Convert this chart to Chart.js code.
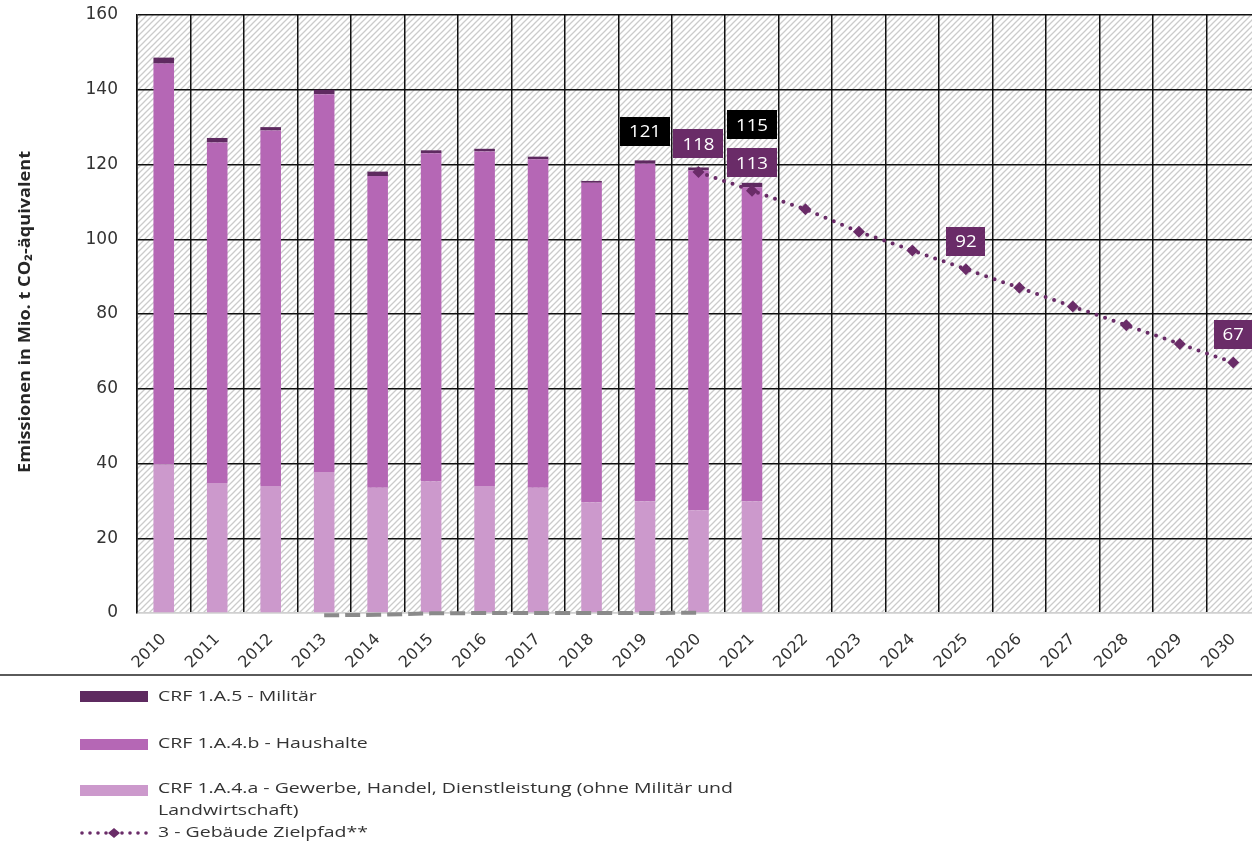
<!DOCTYPE html>
<html><head><meta charset="utf-8">
<script src="https://cdn.jsdelivr.net/npm/chart.js@4.4.1/dist/chart.umd.min.js"></script>
<style>
html,body{margin:0;padding:0;background:#fff;overflow:hidden;}
#wrap{position:absolute;left:0;top:0;width:1266px;height:843px;}
</style></head><body>
<div id="wrap"><canvas id="c"></canvas></div>
<script>
// ---- data ----
const years = ['2010','2011','2012','2013','2014','2015','2016','2017','2018','2019','2020','2021','2022','2023','2024','2025','2026','2027','2028','2029','2030'];
const gewerbe   = [39.8, 34.8, 34.0, 37.7, 33.5, 35.2, 34.0, 33.5, 29.6, 29.9, 27.5, 29.9];
const haushalte = [107.2, 91.1, 95.1, 101.1, 83.4, 87.8, 89.5, 87.9, 85.5, 90.3, 90.9, 84.0];
const militaer  = [1.6, 1.2, 0.9, 1.2, 1.2, 0.8, 0.7, 0.7, 0.5, 0.9, 0.8, 1.2];
const zielpfad  = [null,null,null,null,null,null,null,null,null,null,118,113,108,102,97,92,87,82,77,72,67];
const greyLine  = [null,null,null,-0.6,-0.5,-0.1,0,0,0,0,0.1,null,null,null,null,null,null,null,null,null,null];
const yTicks = [0,20,40,60,80,100,120,140,160];
const nameMilitaer  = 'CRF 1.A.5 - Militär';
const nameHaushalte = 'CRF 1.A.4.b - Haushalte';
const nameGewerbe   = ['CRF 1.A.4.a - Gewerbe, Handel, Dienstleistung (ohne Militär und', 'Landwirtschaft)'];
const nameZiel      = '3 - Gebäude Zielpfad**';
const yTitle = 'Emissionen in Mio. t CO₂-äquivalent';
// value callouts: which year, which series ("total" = bar sum, "ziel" = target path)
const callouts = [
  {year:'2019', kind:'total'},
  {year:'2020', kind:'ziel'},
  {year:'2021', kind:'total'},
  {year:'2021', kind:'ziel'},
  {year:'2025', kind:'ziel'},
  {year:'2030', kind:'ziel'}
];

// ---- styles ----
const cMil = '#5e2a60', cHaus = '#b567b5', cGew = '#cc99cc', cZiel = '#6a2c68', cGrey = '#8a8a8a';

const pat = document.createElement('canvas'); pat.width = 6; pat.height = 6;
const pc = pat.getContext('2d');
pc.fillStyle = '#ffffff'; pc.fillRect(0,0,6,6);
pc.strokeStyle = '#cbcbcb'; pc.lineWidth = 1.3;
pc.beginPath();
pc.moveTo(0,6); pc.lineTo(6,0);
pc.moveTo(-1,1); pc.lineTo(1,-1);
pc.moveTo(5,7); pc.lineTo(7,5);
pc.stroke();

const hatchPlugin = {
  id: 'hatch',
  beforeDraw(chart){
    const {ctx, chartArea:a} = chart;
    ctx.save();
    ctx.fillStyle = ctx.createPattern(pat, 'repeat');
    ctx.fillRect(a.left, a.top, a.right - a.left, a.bottom - a.top);
    ctx.restore();
  }
};

const calloutPlugin = {
  id: 'callouts',
  afterDatasetsDraw(chart){
    const {ctx} = chart;
    const xs = chart.scales.x, ys = chart.scales.y;
    ctx.save();
    ctx.font = '17px "Open Sans"';
    ctx.textAlign = 'center'; ctx.textBaseline = 'middle';
    callouts.forEach(c => {
      const i = years.indexOf(c.year);
      let v, bg, dy;
      if (c.kind === 'total') {
        v = gewerbe[i] + haushalte[i] + militaer[i]; bg = '#000000';
        dy = (c.year === '2021') ? 58 : 29;
      } else {
        v = zielpfad[i]; bg = cZiel; dy = 28;
      }
      const txt = String(Math.round(v));
      const x = xs.getPixelForValue(i), y = ys.getPixelForValue(v) - dy;
      const w = ctx.measureText(txt).width * 1.1 + 18, h = 29;
      ctx.fillStyle = bg;
      ctx.fillRect(Math.round(x - w/2), Math.round(y - h/2), Math.round(w), h);
      ctx.fillStyle = '#ffffff';
      ctx.save(); ctx.translate(x, y + 1); ctx.scale(1.1, 1);
      ctx.fillText(txt, 0, 0);
      ctx.restore();
    });
    ctx.restore();
  }
};

const titlePlugin = {
  id: 'yTitle',
  afterDraw(chart){
    const ctx = chart.ctx, a = chart.chartArea;
    ctx.save();
    ctx.font = '700 16px "Open Sans"';
    ctx.fillStyle = '#262626';
    ctx.textAlign = 'center'; ctx.textBaseline = 'middle';
    const w = ctx.measureText(yTitle).width;
    const sx = 322 / w;
    ctx.translate(25, (a.top + a.bottom) / 2 - 2);
    ctx.rotate(-Math.PI / 2);
    ctx.scale(sx, 1);
    ctx.fillText(yTitle, 0, 0);
    ctx.restore();
  }
};

const legendPlugin = {
  id: 'customLegend',
  afterDraw(chart){
    const ctx = chart.ctx;
    ctx.save();
    ctx.strokeStyle = '#5a5a5a'; ctx.lineWidth = 2;
    ctx.beginPath(); ctx.moveTo(0, 675); ctx.lineTo(1266, 675); ctx.stroke();
    ctx.font = '15px "Open Sans"';
    ctx.textBaseline = 'middle'; ctx.textAlign = 'left';
    const sx = 575 / ctx.measureText(nameGewerbe[0]).width;
    const bx = 80, bw = 68, tx = 158;
    const txt = (s, y) => { ctx.save(); ctx.fillStyle = '#333'; ctx.translate(tx, y); ctx.scale(sx, 1); ctx.fillText(s, 0, 0); ctx.restore(); };
    // Militär
    ctx.fillStyle = cMil; ctx.fillRect(bx, 691, bw, 11);
    txt(nameMilitaer, 697);
    // Haushalte
    ctx.fillStyle = cHaus; ctx.fillRect(bx, 739, bw, 11);
    txt(nameHaushalte, 744);
    // Gewerbe
    ctx.fillStyle = cGew; ctx.fillRect(bx, 785, bw, 11);
    txt(nameGewerbe[0], 789);
    txt(nameGewerbe[1], 811);
    // Zielpfad
    ctx.fillStyle = cZiel;
    for (let x = 82; x <= 146; x += 8) {
      if (Math.abs(x - 114) < 6) continue;
      ctx.beginPath(); ctx.arc(x, 833, 1.8, 0, Math.PI*2); ctx.fill();
    }
    ctx.beginPath(); ctx.moveTo(114, 828); ctx.lineTo(120, 833); ctx.lineTo(114, 838); ctx.lineTo(108, 833); ctx.closePath(); ctx.fill();
    txt(nameZiel, 833);
    ctx.restore();
  }
};

new Chart(document.getElementById('c'), {
  type: 'bar',
  data: {
    labels: years,
    datasets: [
      {type:'line', label: nameZiel, data: zielpfad, stack:'ziel', order:0,
       borderColor: cZiel, backgroundColor: cZiel, borderWidth: 4, borderDash:[0,9], borderCapStyle:'round',
       pointStyle:'rectRot', pointRadius:6, pointBackgroundColor:cZiel, pointBorderWidth:0, fill:false, spanGaps:false},
      {type:'line', label: 'grey', data: greyLine, stack:'grey', order:0, clip: false,
       borderColor: cGrey, borderWidth: 4, borderDash:[15,6], pointRadius:0, fill:false},
      {label: nameGewerbe.join(' '), data: gewerbe, backgroundColor: cGew, stack:'s', order:1},
      {label: nameHaushalte, data: haushalte, backgroundColor: cHaus, stack:'s', order:1},
      {label: nameMilitaer, data: militaer, backgroundColor: cMil, stack:'s', order:1}
    ]
  },
  options: {
    responsive: true, maintainAspectRatio: false, animation: false,
    layout: {padding: {top: 15, left: 0, right: 0, bottom: 168}},
    datasets: {bar: {categoryPercentage: 1, barPercentage: 0.385}},
    plugins: {legend: {display:false}, tooltip: {enabled:false}},
    scales: {
      x: {
        stacked: true,
        afterFit(s){ s.height = 62; },
        grid: {offset: true, color: '#111', lineWidth: 1.5, drawTicks: false},
        border: {color: '#d0d0d0', width: 1.5},
        ticks: {minRotation: 45, maxRotation: 45, padding: 17, color: '#333', font: {family: 'DejaVu Sans', size: 16}}
      },
      y: {
        stacked: true, min: 0, max: 160,
        afterFit(s){ s.width = 137; s.paddingTop = 0; s.paddingBottom = 0; },
        afterBuildTicks(s){ s.ticks = yTicks.map(v => ({value: v})); },
        grid: {color: c => c.tick && c.tick.value === 0 ? '#d0d0d0' : '#111', lineWidth: 1.5, drawTicks: false},
        border: {color: '#111', width: 1.5},
        ticks: {padding: 19, color: '#333', font: {family: 'DejaVu Sans', size: 17}},
        title: {display: false}
      }
    }
  },
  plugins: [hatchPlugin, calloutPlugin, titlePlugin, legendPlugin]
});
</script>
</body></html>
